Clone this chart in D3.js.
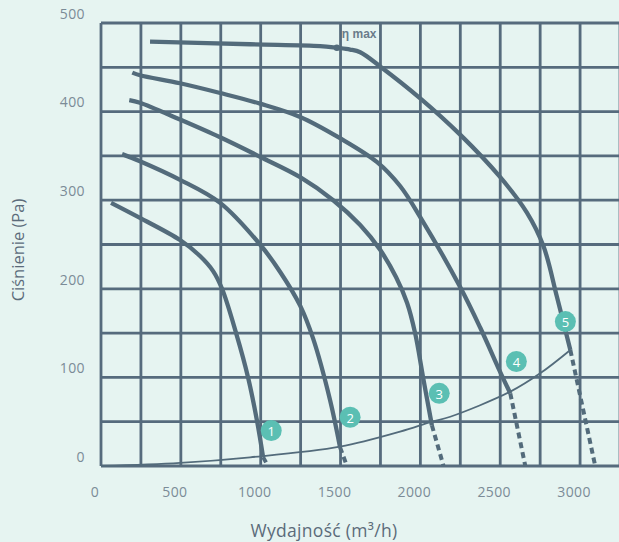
<!DOCTYPE html>
<html>
<head>
<meta charset="utf-8">
<script src="https://cdn.jsdelivr.net/npm/d3@7/dist/d3.min.js"></script>
<style>
  html, body { margin: 0; padding: 0; background: #e6f4f1; }
  svg { display: block; }
</style>
</head>
<body>
<svg id="chart" width="619" height="542"></svg>
<script>
// ---- data ----
const xTicks = [0, 500, 1000, 1500, 2000, 2500, 3000];
const yTicks = [0, 100, 200, 300, 400, 500];
const xGrid = [0, 250, 500, 750, 1000, 1250, 1500, 1750, 2000, 2250, 2500, 2750, 3000, 3250];
const yGrid = [0, 50, 100, 150, 200, 250, 300, 350, 400, 450, 500];

// fan curves: [flow m3/h, pressure Pa] (solid part, ending on system curve)
const curve1 = [[63,297],[244,280],[495,255],[620,237],[702,220],[758,200],[846,150],[921,100],[977,51],[1015,10]];
const curve2 = [[132,352],[244,344],[495,323],[746,297],[996,250],[1122,219],[1247,181],[1328,144],[1435,74],[1497,21]];
const curve3 = [[177,413],[244,410],[495,391],[746,371],[996,349],[1247,326],[1454,300],[1623,272],[1748,244],[1848,213],[1917,184],[1967,150],[2018,99],[2072,46]];
const curve4 = [[196,444],[244,441],[495,432],[746,421],[996,409],[1247,394],[1497,370],[1729,343],[1873,316],[1999,281],[2249,202],[2375,156],[2500,106],[2563,82]];
const curve5 = [[307,479],[934,476],[1372,474],[1477,472],[1560,470],[1623,467],[1748,451],[1999,415],[2249,374],[2500,326],[2667,286],[2771,248],[2855,191],[2939,131]];
// dashed continuation end points (pressure 0)
const dashEnds = [1046, 1540, 2145, 2657, 3095];
// system curve
const systemCurve = [[0,0],[495,3.5],[934,9.8],[1497,21.8],[1873,38.7],[2072,50],[2187,55.6],[2563,83.9],[2750,104.6],[2939,131]];
// markers
const markerLabels = ["1","2","3","4","5"];
const markerPos = [[1066,40],[1560,55],[2118,82],[2601,118],[2908,163]];
const etaMax = [1477, 472];
const xTitle = "Wydajność (m³/h)";
const yTitle = "Ciśnienie (Pa)";

// ---- drawing ----
const svg = d3.select("#chart");
const x = d3.scaleLinear().domain([0, 3250]).range([101, 620]);
const y = d3.scaleLinear().domain([0, 500]).range([466, 23]);

const gridColor = "#566b7d";
const curveColor = "#536b7b";
const labelColor = "#7b8b97";
const fontFam = "Open Sans, sans-serif";

// grid
svg.append("g").selectAll("line").data(yGrid).join("line")
  .attr("x1", x(0)).attr("x2", x(3250))
  .attr("y1", d => y(d)).attr("y2", d => y(d))
  .attr("stroke", gridColor).attr("stroke-width", 2.8);
svg.append("g").selectAll("line").data(xGrid).join("line")
  .attr("x1", d => x(d)).attr("x2", d => x(d))
  .attr("y1", y(0)).attr("y2", y(500))
  .attr("stroke", gridColor).attr("stroke-width", 2.8);

// tick labels
svg.append("g").selectAll("text").data(xTicks).join("text")
  .attr("x", d => x(d) - 6).attr("y", 497)
  .attr("text-anchor", "middle")
  .attr("font-family", fontFam).attr("font-size", 14).attr("letter-spacing", 0.4)
  .attr("fill", labelColor).text(d => d);
svg.append("g").selectAll("text").data(yTicks).join("text")
  .attr("x", 85).attr("y", d => y(d) - 8)
  .attr("text-anchor", "end").attr("dominant-baseline", "middle")
  .attr("font-family", fontFam).attr("font-size", 14).attr("letter-spacing", 0.4)
  .attr("fill", labelColor).text(d => d);

// axis titles
svg.append("text").attr("x", 324).attr("y", 537)
  .attr("text-anchor", "middle")
  .attr("font-family", fontFam).attr("font-size", 17.5).attr("letter-spacing", 0.3)
  .attr("fill", "#5b6b7a").text(xTitle);
svg.append("text")
  .attr("transform", "translate(24,250) rotate(-90)")
  .attr("text-anchor", "middle")
  .attr("font-family", fontFam).attr("font-size", 16.5)
  .attr("fill", "#5b6b7a").text(yTitle);

// system curve
const line = d3.line().x(d => x(d[0])).y(d => y(d[1])).curve(d3.curveCatmullRom.alpha(0.5));
svg.append("path").datum(systemCurve).attr("d", line)
  .attr("fill", "none").attr("stroke", curveColor).attr("stroke-width", 1.8);

// fan curves
const curves = [curve1, curve2, curve3, curve4, curve5];
curves.forEach((c, i) => {
  svg.append("path").datum(c).attr("d", line)
    .attr("fill", "none").attr("stroke", curveColor)
    .attr("stroke-width", 4.3).attr("stroke-linecap", "butt");
  const last = c[c.length - 1];
  svg.append("line")
    .attr("x1", x(last[0])).attr("y1", y(last[1]))
    .attr("x2", x(dashEnds[i])).attr("y2", y(0))
    .attr("stroke", curveColor).attr("stroke-width", 4)
    .attr("stroke-dasharray", "6,4");
});

// eta max
svg.append("circle").attr("cx", x(etaMax[0])).attr("cy", y(etaMax[1])).attr("r", 3.2)
  .attr("fill", curveColor);
svg.append("text").attr("x", x(etaMax[0]) + 5).attr("y", 38)
  .attr("font-family", "Liberation Sans, Arial, sans-serif").attr("font-size", 12)
  .attr("font-weight", "bold").attr("fill", "#6a7c8b").text("η max");

// markers
const mg = svg.append("g").selectAll("g").data(markerPos).join("g")
  .attr("transform", d => `translate(${x(d[0])},${y(d[1])})`);
mg.append("circle").attr("r", 10.5).attr("fill", "#5bbfb3");
mg.append("text").attr("text-anchor", "middle").attr("dominant-baseline", "central")
  .attr("y", 0.5)
  .attr("font-family", fontFam).attr("font-size", 13)
  .attr("fill", "#ffffff").text((d, i) => markerLabels[i]);
</script>
</body>
</html>
